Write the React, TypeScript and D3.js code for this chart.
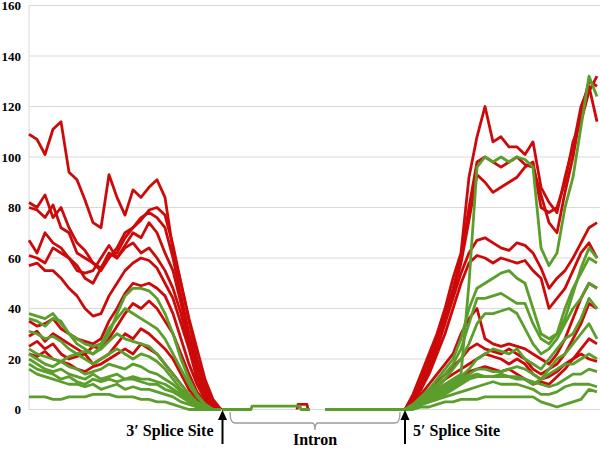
import * as d3 from "d3";
import React, { useRef, useEffect } from "react";

const width = 600;
const height = 453;
const red = "#cc0a0a";
const green = "#5c9e2c";

// y ticks
const yTicks = [0, 20, 40, 60, 80, 100, 120, 140, 160];

// positions (bp-ish units) of the sampled points in each exon
const leftPos = [0, 8, 16, 24, 32, 40, 48, 56, 64, 72, 80, 88, 96, 104, 112, 120, 128, 136, 144, 152, 160, 168, 176, 184, 192];
const rightPos = [376, 384, 392, 400, 408, 416, 424, 432, 440, 448, 456, 464, 472, 480, 488, 496, 504, 512, 520, 528, 536, 544, 552, 560, 568];

// 3' exon (left) coverage
const redLeft = [
  [109, 107, 101, 111, 114, 94, 91, 83, 74, 72, 93, 84, 77, 87, 84, 88, 91, 84, 63, 50, 36, 24, 12, 4, 0],
  [82, 80, 85, 76, 80, 72, 66, 63, 58, 55, 60, 64, 70, 72, 75, 79, 80, 77, 65, 50, 35, 20, 10, 3, 0],
  [80, 79, 76, 81, 72, 70, 62, 60, 58, 56, 61, 62, 68, 72, 76, 78, 76, 72, 60, 45, 30, 18, 8, 2, 0],
  [67, 62, 70, 66, 64, 60, 57, 52, 50, 56, 62, 60, 65, 70, 68, 74, 70, 62, 55, 42, 28, 15, 6, 1, 0],
  [61, 60, 58, 64, 62, 60, 55, 54, 55, 60, 65, 60, 64, 66, 62, 64, 60, 55, 48, 38, 25, 14, 6, 1, 0],
  [57, 58, 55, 55, 52, 48, 45, 40, 37, 38, 45, 50, 55, 58, 60, 59, 56, 50, 44, 34, 24, 12, 5, 1, 0],
  [35, 33, 34, 36, 32, 30, 28, 27, 26, 28, 35, 40, 46, 50, 49, 50, 48, 45, 38, 28, 18, 10, 4, 1, 0],
  [29, 31, 27, 30, 28, 26, 24, 22, 25, 24, 28, 33, 38, 42, 40, 43, 40, 35, 30, 22, 14, 7, 3, 0, 0],
  [25, 27, 24, 26, 22, 20, 21, 22, 18, 20, 22, 26, 30, 28, 32, 30, 27, 24, 20, 14, 8, 4, 1, 0, 0],
  [22, 21, 23, 20, 19, 18, 16, 15, 17, 18, 20, 22, 24, 22, 26, 24, 22, 18, 14, 10, 6, 3, 1, 0, 0],
];
const greenLeft = [
  [38, 37, 36, 38, 34, 30, 26, 24, 22, 25, 30, 38, 45, 48, 48, 47, 44, 38, 30, 20, 12, 6, 2, 0, 0],
  [36, 35, 33, 36, 35, 30, 28, 26, 25, 26, 32, 36, 40, 38, 36, 34, 32, 28, 22, 16, 10, 5, 2, 0, 0],
  [31, 30, 28, 29, 27, 24, 22, 23, 22, 24, 27, 30, 28, 27, 26, 25, 22, 18, 14, 10, 6, 3, 1, 0, 0],
  [24, 22, 21, 20, 19, 21, 22, 20, 18, 20, 22, 24, 22, 20, 22, 21, 19, 16, 12, 8, 5, 2, 0, 0, 0],
  [22, 20, 18, 17, 19, 17, 16, 14, 15, 16, 18, 17, 16, 18, 17, 15, 14, 12, 10, 7, 4, 2, 0, 0, 0],
  [20, 18, 16, 15, 16, 14, 13, 12, 14, 12, 13, 14, 12, 13, 12, 12, 11, 10, 8, 6, 3, 1, 0, 0, 0],
  [18, 16, 15, 14, 12, 13, 11, 10, 12, 11, 12, 11, 12, 12, 11, 10, 10, 8, 7, 5, 3, 1, 0, 0, 0],
  [16, 14, 13, 12, 11, 10, 10, 9, 10, 8, 9, 10, 8, 9, 8, 8, 7, 6, 5, 3, 2, 1, 0, 0, 0],
  [5, 5, 5, 4, 4, 5, 5, 5, 6, 6, 6, 5, 5, 5, 4, 4, 3, 3, 2, 1, 0, 0, 0, 0, 0],
];

// 5' exon (right) coverage
const redRight = [
  [0, 6, 14, 22, 30, 40, 52, 62, 92, 108, 120, 106, 108, 104, 104, 101, 106, 88, 82, 78, 92, 104, 120, 128, 114],
  [0, 5, 12, 20, 28, 38, 48, 60, 80, 98, 100, 98, 96, 98, 100, 97, 96, 85, 74, 70, 86, 100, 118, 130, 128],
  [0, 4, 10, 18, 26, 36, 46, 58, 75, 93, 90, 86, 88, 90, 92, 96, 98, 80, 78, 80, 90, 106, 114, 126, 132],
  [0, 3, 8, 16, 24, 34, 44, 54, 62, 67, 68, 66, 64, 63, 66, 65, 62, 56, 48, 52, 55, 60, 66, 72, 74],
  [0, 3, 8, 14, 22, 30, 40, 50, 58, 61, 60, 58, 60, 59, 58, 59, 55, 52, 40, 44, 48, 55, 62, 66, 60],
  [0, 2, 6, 10, 14, 18, 22, 30, 36, 40, 28, 26, 25, 26, 25, 24, 22, 20, 18, 22, 28, 36, 44, 50, 48],
  [0, 2, 5, 8, 11, 14, 17, 20, 24, 26, 24, 23, 22, 24, 22, 20, 16, 14, 16, 18, 22, 28, 34, 42, 40],
  [0, 1, 3, 6, 9, 12, 14, 16, 18, 20, 22, 21, 20, 18, 20, 18, 14, 12, 13, 15, 18, 20, 22, 20, 19],
  [0, 1, 3, 5, 7, 9, 11, 13, 15, 16, 17, 16, 15, 16, 14, 12, 10, 11, 10, 13, 16, 20, 24, 28, 26],
];
const greenRight = [
  [0, 2, 4, 6, 8, 10, 12, 14, 50, 96, 100, 98, 100, 98, 100, 99, 96, 64, 57, 62, 80, 92, 112, 132, 124],
  [0, 2, 5, 8, 12, 16, 20, 28, 40, 48, 50, 52, 54, 55, 52, 50, 40, 30, 28, 30, 36, 46, 56, 64, 60],
  [0, 2, 4, 7, 10, 14, 18, 24, 34, 44, 44, 45, 46, 44, 42, 42, 34, 28, 26, 30, 40, 48, 54, 60, 58],
  [0, 1, 3, 6, 9, 12, 16, 20, 26, 34, 38, 38, 39, 40, 38, 32, 26, 22, 24, 28, 34, 40, 44, 50, 48],
  [0, 1, 3, 5, 7, 9, 11, 13, 16, 20, 22, 24, 23, 22, 24, 20, 18, 16, 20, 24, 28, 30, 36, 44, 40],
  [0, 1, 2, 4, 6, 8, 10, 12, 14, 16, 16, 15, 15, 16, 17, 16, 14, 12, 16, 20, 22, 26, 30, 34, 28],
  [0, 1, 2, 3, 5, 7, 9, 11, 13, 14, 13, 13, 14, 13, 12, 12, 10, 12, 14, 16, 18, 18, 20, 22, 20],
  [0, 1, 2, 3, 4, 6, 8, 10, 12, 13, 13, 13, 13, 13, 13, 12, 11, 10, 9, 10, 12, 14, 14, 16, 15],
  [0, 1, 2, 3, 4, 5, 6, 7, 8, 9, 10, 11, 10, 10, 10, 9, 8, 6, 6, 7, 9, 10, 10, 10, 9],
  [0, 0, 1, 1, 2, 3, 3, 4, 4, 4, 5, 5, 5, 5, 5, 5, 5, 3, 2, 1, 2, 3, 4, 8, 7],
];

// intron (mostly zero coverage)
const intronGreenPos = [193, 222, 223, 271, 272, 281];
const intronGreenVal = [0, 0, 1.3, 1.3, 0, 0];
const intronGreen2Pos = [296, 376];
const intronGreen2Val = [0, 0];
const intronRedPos = [268, 269, 278, 279];
const intronRedVal = [0, 2, 2, 0];

// splice site annotation positions
const site3 = 193.5;
const site5 = 376;
const intronSpan = [201, 371];

export default function App() {
  const ref = useRef<SVGSVGElement>(null);

  useEffect(() => {
    if (!ref.current) return;
    const svg = d3.select(ref.current);
    svg.selectAll("*").remove();

    const x = d3.scaleLinear().domain([0, 571]).range([29, 600]);
    const y = d3.scaleLinear().domain([0, 160]).range([409.5, 5.5]);

    // gridlines
    svg.append("g")
      .selectAll("line")
      .data(yTicks)
      .join("line")
      .attr("x1", x(0))
      .attr("x2", x(571))
      .attr("y1", d => y(d))
      .attr("y2", d => y(d))
      .attr("stroke", "#d9d9d9")
      .attr("stroke-width", 1);

    svg.append("line")
      .attr("x1", x(0)).attr("x2", x(0))
      .attr("y1", y(160)).attr("y2", y(0))
      .attr("stroke", "#d9d9d9");

    svg.append("g")
      .selectAll("text")
      .data(yTicks)
      .join("text")
      .attr("x", 21)
      .attr("y", d => y(d))
      .attr("dy", "0.35em")
      .attr("text-anchor", "end")
      .attr("font-family", "'Liberation Serif', serif")
      .attr("font-weight", "bold")
      .attr("font-size", 13)
      .text(d => d);

    const line = (pos: number[]) =>
      d3.line<number>()
        .x((d, i) => x(pos[i]))
        .y(d => y(d));

    const drawSet = (sets: number[][], pos: number[], color: string) => {
      svg.append("g")
        .selectAll("path")
        .data(sets)
        .join("path")
        .attr("d", d => line(pos)(d))
        .attr("fill", "none")
        .attr("stroke", color)
        .attr("stroke-width", 2.8)
        .attr("stroke-linejoin", "round");
    };

    drawSet(redLeft, leftPos, red);
    drawSet(redRight, rightPos, red);
    drawSet([intronRedVal], intronRedPos, red);
    drawSet(greenLeft, leftPos, green);
    drawSet(greenRight, rightPos, green);
    drawSet([intronGreenVal], intronGreenPos, green);
    drawSet([intronGreen2Val], intronGreen2Pos, green);

    // arrows
    const arrow = (p: number) => {
      const px = x(p);
      svg.append("line")
        .attr("x1", px).attr("x2", px)
        .attr("y1", 444).attr("y2", 418)
        .attr("stroke", "#000").attr("stroke-width", 2);
      svg.append("path")
        .attr("d", `M${px},410 L${px - 4.5},420 L${px + 4.5},420 Z`)
        .attr("fill", "#000");
    };
    arrow(site3);
    arrow(site5);

    // brace over the intron
    const bx0 = x(intronSpan[0]);
    const bx1 = x(intronSpan[1]);
    const bm = (bx0 + bx1) / 2;
    svg.append("path")
      .attr("d", `M${bx0},412 Q${bx0},423 ${bx0 + 5},423 L${bm - 3},423 Q${bm},423 ${bm},430 Q${bm},423 ${bm + 3},423 L${bx1 - 5},423 Q${bx1},423 ${bx1},412`)
      .attr("fill", "none")
      .attr("stroke", "#9a9a9a")
      .attr("stroke-width", 1.3);

    const label = (tx: number, ty: number, anchor: string, s: string) =>
      svg.append("text")
        .attr("x", tx).attr("y", ty)
        .attr("text-anchor", anchor)
        .attr("font-family", "'Liberation Serif', serif")
        .attr("font-weight", "bold")
        .attr("font-size", 16)
        .text(s);

    label(x(site3) - 9, 436, "end", "3\u2032 Splice Site");
    label(x(site5) + 8, 436, "start", "5\u2032 Splice Site");
    label(bm, 445, "middle", "Intron");
  }, []);

  return (
    <svg
      ref={ref}
      width={width}
      height={height}
      style={{ position: "absolute", left: 0, top: 0, background: "#fff" }}
    />
  );
}
